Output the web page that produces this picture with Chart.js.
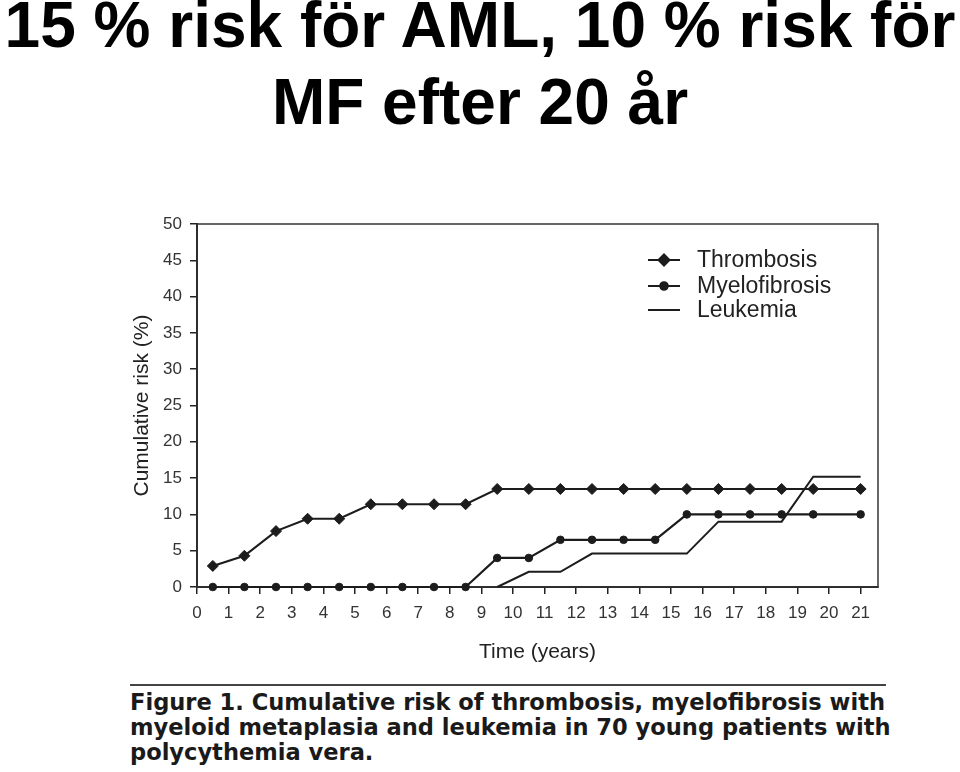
<!DOCTYPE html>
<html>
<head>
<meta charset="utf-8">
<script src="https://cdn.jsdelivr.net/npm/chart.js@4.4.0/dist/chart.umd.min.js"></script>
<style>
  html, body { margin: 0; padding: 0; background: #fff; }
  body { width: 960px; height: 772px; position: relative; overflow: hidden; font-family: "Liberation Sans", Arial, sans-serif; }
  #title { position: absolute; left: 0; top: -13px; width: 960px; text-align: center; font-weight: bold; font-size: 64px; line-height: 77px; color: #000; white-space: nowrap; }
  #chartBox { position: absolute; left: 0; top: 190px; width: 960px; height: 490px; }
  #rule { position: absolute; left: 130px; top: 684px; width: 756px; height: 2px; background: #444; }
  #caption { position: absolute; left: 130px; top: 690px; font-family: "Liberation Sans Narrow", "DejaVu Sans Condensed", sans-serif; font-weight: bold; font-size: 23px; line-height: 25px; color: #1a1a1a; transform-origin: 0 0; white-space: nowrap; }
</style>
</head>
<body>
<div id="title">15 % risk för AML, 10 % risk för<br>MF efter 20 år</div>
<div id="chartBox"><canvas id="riskChart"></canvas></div>
<div id="rule"></div>
<div id="caption"><span id="capLine1">Figure 1. Cumulative risk of thrombosis, myelofibrosis with</span><br>myeloid metaplasia and leukemia in 70 young patients with<br>polycythemia vera.</div>
<script>
// time points (years) where the curves have a value
var years = [0.5, 1.5, 2.5, 3.5, 4.5, 5.5, 6.5, 7.5, 8.5, 9.5, 10.5, 11.5, 12.5, 13.5, 14.5, 15.5, 16.5, 17.5, 18.5, 19.5, 21];
var thrombosis = [2.9, 4.3, 7.7, 9.4, 9.4, 11.4, 11.4, 11.4, 11.4, 13.5, 13.5, 13.5, 13.5, 13.5, 13.5, 13.5, 13.5, 13.5, 13.5, 13.5, 13.5];
var myelofibrosis = [0, 0, 0, 0, 0, 0, 0, 0, 0, 4.0, 4.0, 6.5, 6.5, 6.5, 6.5, 10, 10, 10, 10, 10, 10];
var leukemia = [null, null, null, null, null, null, null, null, null, 0, 2.1, 2.1, 4.6, 4.6, 4.6, 4.6, 9.0, 9.0, 9.0, 15.2, 15.2];
var seriesNames = ['Thrombosis', 'Myelofibrosis', 'Leukemia'];
var xTicks = [0, 1, 2, 3, 4, 5, 6, 7, 8, 9, 10, 11, 12, 13, 14, 15, 16, 17, 18, 19, 20, 21];
var yTicks = [0, 5, 10, 15, 20, 25, 30, 35, 40, 45, 50];

var ink = '#1c1c1c';

function toPoints(values) {
    return years.map(function (x, i) { return { x: x, y: values[i] }; });
}

// draws the frame around the plot and the legend in the upper right
var frameLegend = {
    id: 'frameLegend',
    beforeDatasetsDraw: function (chart) {
        var ctx = chart.ctx;
        var a = chart.chartArea;
        ctx.save();
        ctx.strokeStyle = '#333';
        ctx.lineWidth = 1.5;
        ctx.strokeRect(a.left, a.top, a.right - a.left, a.bottom - a.top);
        ctx.restore();
    },
    afterDatasetsDraw: function (chart) {
        var ctx = chart.ctx;
        ctx.save();
        var rowY = [70, 96, 120];
        ctx.font = '23px "Liberation Sans", Arial, sans-serif';
        ctx.textBaseline = 'middle';
        chart.data.datasets.forEach(function (ds, i) {
            var y = rowY[i];
            ctx.strokeStyle = ink;
            ctx.lineWidth = 2;
            ctx.beginPath();
            ctx.moveTo(648, y);
            ctx.lineTo(680, y);
            ctx.stroke();
            if (ds.pointRadius > 0) {
                ctx.fillStyle = ink;
                Chart.helpers.drawPoint(ctx, { pointStyle: ds.pointStyle, radius: ds.pointRadius, borderWidth: 1 }, 664, y);
                ctx.fill();
            }
            ctx.fillStyle = '#222';
            ctx.fillText(ds.label, 697, y + 1);
        });
        ctx.restore();
    }
};

var ctx = document.getElementById('riskChart').getContext('2d');
new Chart(ctx, {
    type: 'line',
    data: {
        datasets: [{
            label: seriesNames[0],
            data: toPoints(thrombosis),
            borderColor: ink,
            backgroundColor: ink,
            borderWidth: 2.2,
            pointStyle: 'rectRot',
            pointRadius: 5.5,
            pointBorderWidth: 1,
            clip: false
        }, {
            label: seriesNames[1],
            data: toPoints(myelofibrosis),
            borderColor: ink,
            backgroundColor: ink,
            borderWidth: 2.2,
            pointStyle: 'circle',
            pointRadius: 3.8,
            pointBorderWidth: 1,
            clip: false
        }, {
            label: seriesNames[2],
            data: toPoints(leukemia),
            borderColor: ink,
            backgroundColor: ink,
            borderWidth: 2,
            pointRadius: 0,
            spanGaps: false,
            clip: false
        }]
    },
    options: {
        responsive: true,
        maintainAspectRatio: false,
        animation: false,
        layout: { padding: { left: 100, right: 82, top: 34, bottom: 0 } },
        plugins: {
            legend: { display: false },
            tooltip: { enabled: false }
        },
        elements: { line: { tension: 0 } },
        scales: {
            x: {
                type: 'linear',
                min: 0,
                max: 21.55,
                afterFit: function (axis) { axis.height = 93; },
                afterBuildTicks: function (axis) {
                    axis.ticks = xTicks.map(function (v) { return { value: v }; });
                },
                border: { display: true, color: '#222', width: 2 },
                grid: { display: true, drawOnChartArea: false, drawTicks: true, tickLength: 7, color: '#222', lineWidth: 1.5 },
                ticks: {
                    autoSkip: false,
                    maxRotation: 0,
                    padding: 9,
                    color: '#333',
                    font: { family: '"Liberation Sans", Arial, sans-serif', size: 17 }
                },
                title: {
                    display: true,
                    text: 'Time (years)',
                    color: '#222',
                    padding: { top: 0, bottom: 15 },
                    font: { family: '"Liberation Sans", Arial, sans-serif', size: 21, lineHeight: 1.2 }
                }
            },
            y: {
                min: yTicks[0],
                max: yTicks[yTicks.length - 1],
                afterFit: function (axis) { axis.width = 97; },
                afterBuildTicks: function (axis) {
                    axis.ticks = yTicks.map(function (v) { return { value: v }; });
                },
                border: { display: true, color: '#222', width: 2 },
                grid: { display: true, drawOnChartArea: false, drawTicks: true, tickLength: 7, color: '#222', lineWidth: 1.5 },
                ticks: {
                    padding: 8,
                    color: '#333',
                    font: { family: '"Liberation Sans", Arial, sans-serif', size: 17 }
                },
                title: {
                    display: true,
                    text: 'Cumulative risk (%)',
                    color: '#222',
                    padding: { top: 30, bottom: 0 },
                    font: { family: '"Liberation Sans", Arial, sans-serif', size: 21, lineHeight: 1.2 }
                }
            }
        }
    },
    plugins: [frameLegend]
});

// stretch the condensed caption to the width of the rule
var cap = document.getElementById('caption');
var w = document.getElementById('capLine1').getBoundingClientRect().width;
if (w > 0) cap.style.transform = 'scaleX(' + (755 / w) + ')';
</script>
</body>
</html>
